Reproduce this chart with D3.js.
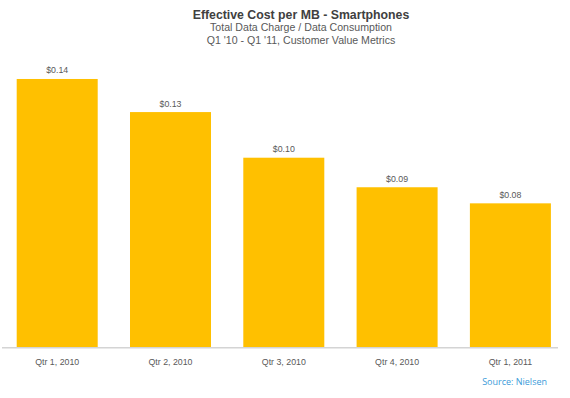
<!DOCTYPE html>
<html>
<head>
<meta charset="utf-8">
<script src="https://cdn.jsdelivr.net/npm/d3@7"></script>
<style>
  html, body { margin: 0; padding: 0; background: #fff; }
  svg { display: block; }
</style>
</head>
<body>
<div id="chart"></div>
<script>
// data (labels are rounded to cents)
const quarters = ['Qtr 1, 2010', 'Qtr 2, 2010', 'Qtr 3, 2010', 'Qtr 4, 2010', 'Qtr 1, 2011'];
const costPerMB = [0.1437, 0.1260, 0.1016, 0.0858, 0.0772];
const titleLines = ['Total Data Charge / Data Consumption', "Q1 '10 - Q1 '11, Customer Value Metrics"];

const width = 570;
const height = 398;
const baseY = 347.7;

const svg = d3.select('#chart')
  .append('svg')
  .attr('width', width)
  .attr('height', height);

const x = d3.scaleBand()
  .domain(quarters)
  .range([0.55, 567.05])
  .paddingInner(0.285)
  .paddingOuter(0.1425);

const y = d3.scaleLinear()
  .domain([0, 0.16])
  .range([baseY, baseY - 0.16 * 1870]);

// titles
svg.append('text')
  .attr('x', 301)
  .attr('y', 19)
  .attr('text-anchor', 'middle')
  .attr('font-family', 'Liberation Sans, Arial, sans-serif')
  .attr('font-weight', 'bold')
  .attr('font-size', '12.3px')
  .attr('fill', '#404040')
  .text('Effective Cost per MB - Smartphones');

svg.selectAll('.sub')
  .data(titleLines)
  .enter()
  .append('text')
  .attr('class', 'sub')
  .attr('x', 301)
  .attr('y', (d, i) => 31 + i * 13)
  .attr('text-anchor', 'middle')
  .attr('font-family', 'Liberation Sans, Arial, sans-serif')
  .attr('font-size', '10.6px')
  .attr('fill', '#595959')
  .text((d) => d);

// bars
const data = quarters.map((q, i) => ({ q, v: costPerMB[i] }));

svg.selectAll('.bar')
  .data(data)
  .enter()
  .append('rect')
  .attr('class', 'bar')
  .attr('x', (d) => x(d.q))
  .attr('y', (d) => y(d.v))
  .attr('width', x.bandwidth())
  .attr('height', (d) => y(0) - y(d.v))
  .attr('fill', '#FFC000');

// value labels
svg.selectAll('.val')
  .data(data)
  .enter()
  .append('text')
  .attr('class', 'val')
  .attr('x', (d) => x(d.q) + x.bandwidth() / 2)
  .attr('y', (d) => y(d.v) - 5.5)
  .attr('text-anchor', 'middle')
  .attr('font-family', 'Liberation Sans, Arial, sans-serif')
  .attr('font-size', '8.8px')
  .attr('fill', '#595959')
  .text((d) => '$' + d.v.toFixed(2));

// x axis
const axis = svg.append('g')
  .attr('transform', `translate(0,${baseY})`)
  .call(d3.axisBottom(x).tickSize(0).tickPadding(11));

axis.select('.domain').remove();
axis.append('line')
  .attr('x1', 2)
  .attr('x2', 558)
  .attr('stroke', '#d4d4d4')
  .attr('stroke-width', 1.5);

axis.selectAll('.tick text')
  .attr('font-family', 'Liberation Sans, Arial, sans-serif')
  .attr('font-size', '8.8px')
  .attr('fill', '#595959');

// source
svg.append('text')
  .attr('x', 547)
  .attr('y', 384.5)
  .attr('text-anchor', 'end')
  .attr('font-family', 'Open Sans, sans-serif')
  .attr('font-size', '9px')
  .attr('fill', '#3a9ad9')
  .text('Source: Nielsen');
</script>
</body>
</html>
